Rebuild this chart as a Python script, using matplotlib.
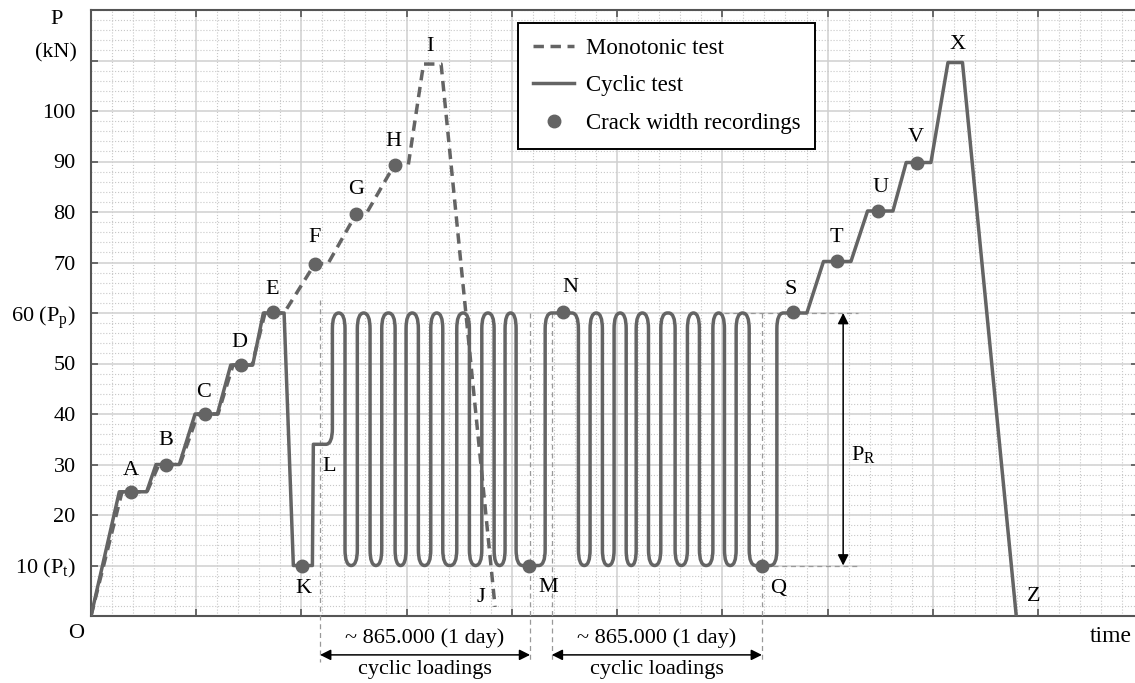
import numpy as np
import matplotlib
matplotlib.use("Agg")
import matplotlib.pyplot as plt
from matplotlib.path import Path
from matplotlib.patches import PathPatch
from matplotlib.ticker import MultipleLocator
from matplotlib.lines import Line2D

plt.rcParams['font.family'] = ['Liberation Serif', 'DejaVu Serif']
plt.rcParams['mathtext.fontset'] = 'custom'
plt.rcParams['mathtext.rm'] = 'Liberation Serif'
plt.rcParams['mathtext.it'] = 'Liberation Serif:italic'

# ---- data (time axis in grid units, load in kN) ----
# cyclic test: load steps O..E, unload to K, reload to L
cyc_x = [0.000, 0.269, 0.529, 0.618, 0.839, 0.989, 1.201, 1.328, 1.537, 1.638,
         1.835, 1.923, 2.104, 2.113]
cyc_y = [0, 24.6, 24.6, 30, 30, 40, 40, 49.7, 49.7, 60, 60, 10, 10, 34]
# vertical strokes of the two cyclic blocks (alternating up / down)
stroke_x = [2.294, 2.414, 2.531, 2.652, 2.763, 2.890, 2.994, 3.111, 3.229, 3.343,
            3.476, 3.596, 3.714, 3.831, 3.935, 4.040, 4.316, 4.632, 4.743, 4.860,
            4.971, 5.086, 5.181, 5.298, 5.415, 5.551, 5.668, 5.782, 5.910, 6.020,
            6.131, 6.255, 6.518]
cyc_lo, cyc_hi = 10, 60
# steps after the cycles S..X and failure Z
post_x = [6.803, 6.961, 7.222, 7.380, 7.621, 7.747, 7.982, 8.144, 8.282, 8.793]
post_y = [60, 70.2, 70.2, 80.2, 80.2, 89.8, 89.8, 109.6, 109.6, 0]

# monotonic test
mono_x = [0.000, 0.295, 0.532, 0.646, 0.846, 1.017, 1.207, 1.350, 1.530, 1.654,
          1.835, 2.129, 2.253, 2.519, 2.614, 2.885, 3.016, 3.160, 3.327, 3.840]
mono_y = [0, 24.6, 24.6, 30, 30, 40, 40, 49.7, 49.7, 60, 60, 69.8, 69.8, 79.6, 79.6,
          89.4, 89.4, 109.3, 109.3, 1.8]

# crack width recordings
rec_x = [0.380, 0.710, 1.087, 1.429, 1.733, 2.003, 4.166, 4.484, 6.376, 6.667,
         7.089, 7.475, 7.849, 2.129, 2.519, 2.885]
rec_y = [24.6, 30, 40, 49.7, 60.2, 10, 10, 60.2, 10, 60.2, 70.2, 80.2, 89.8,
         69.8, 79.6, 89.4]

# point labels
lab_txt = ['A', 'B', 'C', 'D', 'E', 'F', 'G', 'H', 'I', 'J', 'K', 'L', 'M', 'N',
           'Q', 'S', 'T', 'U', 'V', 'X', 'Z']
lab_x = [0.380, 0.713, 1.065, 1.407, 1.721, 2.129, 2.519, 2.871, 3.222, 3.707,
         2.015, 2.262, 4.344, 4.553, 6.530, 6.654, 7.082, 7.500, 7.842, 8.232, 8.954]
lab_y = [28.9, 34.7, 44.2, 54.1, 64.6, 74.9, 84.4, 93.9, 112.7, 3.6, 5.5, 29.7,
         5.7, 65.1, 5.5, 64.6, 75.0, 84.8, 94.7, 113.1, 3.8]

ytick_vals = [10, 20, 30, 40, 50, 60, 70, 80, 90, 100, 110]
ytick_labs = ['10 ($\\mathrm{P_t}$)', '20', '30', '40', '50', '60 ($\\mathrm{P_p}$)',
              '70', '80', '90', '100', '']

# cyclic windows (start, end) and P_R range
win_x = [(2.177, 4.173), (4.379, 6.376)]
win_top = [62.5, 60]
pr_x = 7.148

gray = '#646464'

fig = plt.figure(figsize=(11.35, 6.83), dpi=100)
ax = fig.add_axes([91 / 1135, 67 / 683, 1047 / 1135, 606 / 683])
ax.set_xlim(0, 9.95)
ax.set_ylim(0, 120)

# grid
ax.xaxis.set_major_locator(MultipleLocator(1))
ax.xaxis.set_minor_locator(MultipleLocator(0.2))
ax.set_yticks(ytick_vals)
ax.set_yticklabels(ytick_labs)
ax.yaxis.set_minor_locator(MultipleLocator(2))
ax.set_xticklabels([])
ax.grid(which='major', color='#d0d0d0', lw=1.1)
ax.grid(which='minor', color='#c8c8c8', ls=':', lw=0.8)
ax.set_axisbelow(True)
ax.tick_params(which='major', direction='in', length=5, width=1.2, color='#555555',
               top=True, right=True, labelsize=16, pad=11)
ax.tick_params(which='minor', length=0)
for sp in ax.spines.values():
    sp.set_color('#555555')
    sp.set_linewidth(1.5)

# cyclic line with rounded turns in the cyclic blocks
verts = list(zip(cyc_x, cyc_y))
rounded = [False] * len(verts)
level = cyc_y[-1]
for i, xs in enumerate(stroke_x):
    new = cyc_hi if i % 2 == 0 else cyc_lo
    verts += [(xs, level), (xs, new)]
    rounded += [True, True]
    level = new
verts += list(zip(post_x, post_y))
rounded += [False] * len(post_x)

p0 = ax.transData.transform((0, 0))
p1 = ax.transData.transform((1, 1))
sc = np.array([p1[0] - p0[0], p1[1] - p0[1]])
P = np.array(verts) * sc
RH, RV = 6.5, 16.0   # rounding along horizontal / vertical segments (px)
out = [P[0]]
codes = [Path.MOVETO]
for k in range(1, len(P) - 1):
    v = P[k]
    if not rounded[k]:
        out.append(v)
        codes.append(Path.LINETO)
        continue
    da = P[k - 1] - v
    db = P[k + 1] - v
    la = np.hypot(*da)
    lb = np.hypot(*db)
    ra = min(RV if abs(da[1]) > abs(da[0]) else RH, la / 2)
    rb = min(RV if abs(db[1]) > abs(db[0]) else RH, lb / 2)
    out += [v + da / la * ra, v, v + db / lb * rb]
    codes += [Path.LINETO, Path.CURVE3, Path.CURVE3]
out.append(P[-1])
codes.append(Path.LINETO)
path = Path(np.array(out) / sc, codes)
ax.add_patch(PathPatch(path, fill=False, edgecolor=gray, lw=2.5, zorder=4,
                       joinstyle='round', capstyle='round'))

ax.plot(mono_x, mono_y, color=gray, lw=2.5, dashes=(3.0, 1.9), zorder=5)
ax.plot(rec_x, rec_y, 'o', color=gray, ms=9, zorder=6)

for t, x, y in zip(lab_txt, lab_x, lab_y):
    ax.text(x, y, t, ha='center', va='center', fontsize=16, zorder=7)

ax.text(-0.143, -3.4, 'O', ha='center', va='center', fontsize=16)
ax.text(9.69, -4.0, 'time', ha='center', va='center', fontsize=17)
ax.text(-0.33, 118.1, 'P', ha='center', va='center', fontsize=16)
ax.text(-0.33, 111.6, '(kN)', ha='center', va='center', fontsize=16)

# cyclic windows below the axis
for (xa, xb), top in zip(win_x, win_top):
    for xv, tv in ((xa, top), (xb, 60)):
        ax.plot([xv, xv], [tv, -9.1], color='#999999', lw=0.9, ls=(0, (4, 3)),
                clip_on=False, zorder=3)
    ax.annotate('', xy=(xb, -7.7), xytext=(xa, -7.7), annotation_clip=False,
                arrowprops=dict(arrowstyle='<|-|>', color='black', lw=1.1,
                                mutation_scale=16, shrinkA=0, shrinkB=0))
    ax.text((xa + xb) / 2, -4.3, '~ 865.000 (1 day)', ha='center', va='center',
            fontsize=16)
    ax.text((xa + xb) / 2, -10.5, 'cyclic loadings', ha='center', va='center',
            fontsize=16)

# P_R range
ax.plot([6.02, 7.29], [cyc_hi, cyc_hi], color='#999999', lw=0.9, ls=(0, (4, 3)), zorder=3)
ax.plot([6.48, 7.29], [cyc_lo, cyc_lo], color='#999999', lw=0.9, ls=(0, (4, 3)), zorder=3)
ax.annotate('', xy=(pr_x, cyc_lo), xytext=(pr_x, cyc_hi),
            arrowprops=dict(arrowstyle='<|-|>', color='black', lw=1.1,
                            mutation_scale=16, shrinkA=0, shrinkB=0))
ax.text(pr_x + 0.07, 32, '$\\mathrm{P_R}$', ha='left', va='center', fontsize=16)

handles = [Line2D([], [], color=gray, lw=2.5, dashes=(3.0, 1.9)),
           Line2D([], [], color=gray, lw=2.5),
           Line2D([], [], ls='none', marker='o', color=gray, ms=9)]
leg = fig.legend(handles, ['Monotonic test', 'Cyclic test', 'Crack width recordings'],
                 loc='upper left', bbox_to_anchor=(518 / 1135, 1 - 23 / 683),
                 fontsize=16.5, frameon=True, fancybox=False, framealpha=1,
                 edgecolor='black', handlelength=1.8, labelspacing=0.72,
                 borderpad=0.65, borderaxespad=0, handletextpad=0.5)
leg.get_frame().set_linewidth(1.4)
leg.set_zorder(10)

fig.savefig('out.png', dpi=100)
